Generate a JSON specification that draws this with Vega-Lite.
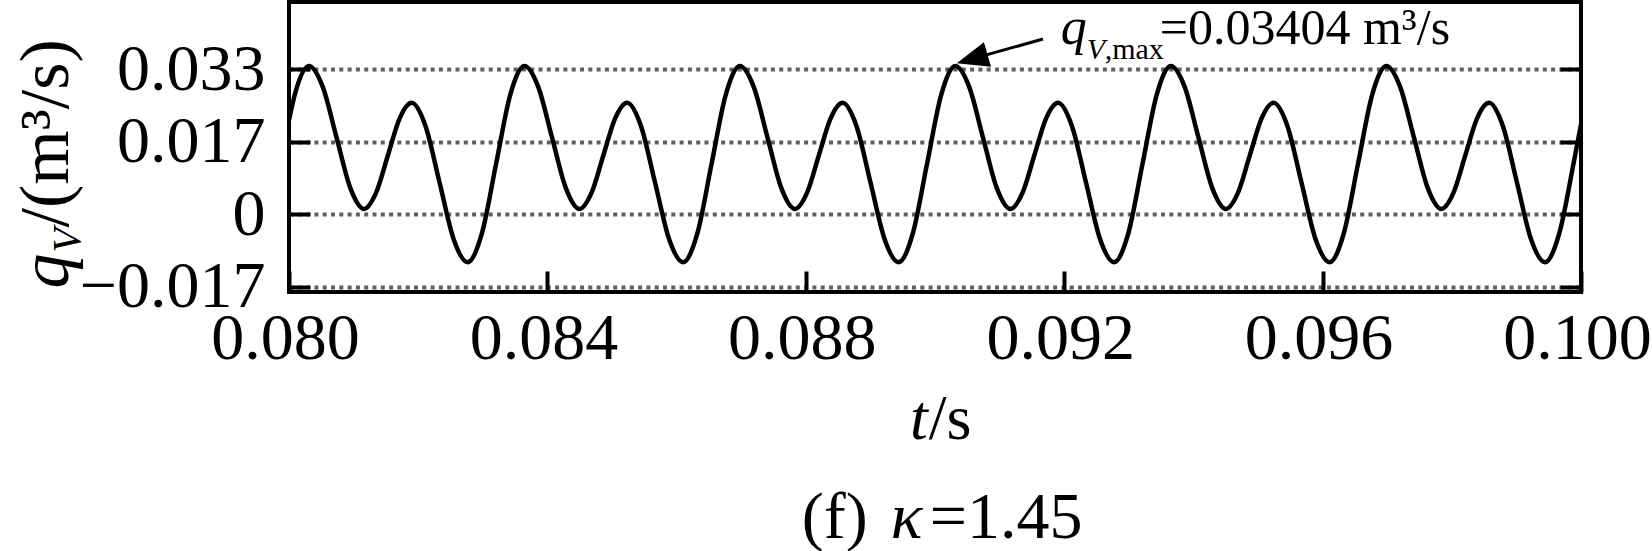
{
  "$schema": "https://vega.github.io/schema/vega-lite/v6.json",
  "width": 1292,
  "height": 290,
  "autosize": {"type": "none"},
  "padding": {"left": 289, "top": 2, "right": 71, "bottom": 259},
  "background": "white",
  "config": {"view": {"stroke": "black", "strokeWidth": 4}, "font": "Liberation Serif"},
  "resolve": {"axis": {"x": "independent", "y": "independent"}},
  "layer": [
    {
      "data": {"values": [
        {"t": 0.0800000, "q": 0.02164},
        {"t": 0.0800894, "q": 0.02745},
        {"t": 0.0803097, "q": 0.03404},
        {"t": 0.0805226, "q": 0.02925},
        {"t": 0.0807356, "q": 0.01767},
        {"t": 0.0809485, "q": 0.00609},
        {"t": 0.0811614, "q": 0.00126},
        {"t": 0.0813453, "q": 0.00486},
        {"t": 0.0815292, "q": 0.01345},
        {"t": 0.0817131, "q": 0.02204},
        {"t": 0.0818970, "q": 0.02561},
        {"t": 0.0821138, "q": 0.02024},
        {"t": 0.0823306, "q": 0.00730},
        {"t": 0.0825474, "q": -0.00564},
        {"t": 0.0827642, "q": -0.01098},
        {"t": 0.0829845, "q": -0.00441},
        {"t": 0.0832048, "q": 0.01152},
        {"t": 0.0834250, "q": 0.02745},
        {"t": 0.0836453, "q": 0.03404},
        {"t": 0.0838582, "q": 0.02925},
        {"t": 0.0840712, "q": 0.01767},
        {"t": 0.0842841, "q": 0.00609},
        {"t": 0.0844970, "q": 0.00126},
        {"t": 0.0846809, "q": 0.00486},
        {"t": 0.0848648, "q": 0.01345},
        {"t": 0.0850487, "q": 0.02204},
        {"t": 0.0852326, "q": 0.02561},
        {"t": 0.0854494, "q": 0.02024},
        {"t": 0.0856662, "q": 0.00730},
        {"t": 0.0858830, "q": -0.00564},
        {"t": 0.0860998, "q": -0.01098},
        {"t": 0.0863201, "q": -0.00441},
        {"t": 0.0865404, "q": 0.01152},
        {"t": 0.0867606, "q": 0.02745},
        {"t": 0.0869809, "q": 0.03404},
        {"t": 0.0871938, "q": 0.02925},
        {"t": 0.0874068, "q": 0.01767},
        {"t": 0.0876197, "q": 0.00609},
        {"t": 0.0878326, "q": 0.00126},
        {"t": 0.0880165, "q": 0.00486},
        {"t": 0.0882004, "q": 0.01345},
        {"t": 0.0883843, "q": 0.02204},
        {"t": 0.0885682, "q": 0.02561},
        {"t": 0.0887850, "q": 0.02024},
        {"t": 0.0890018, "q": 0.00730},
        {"t": 0.0892186, "q": -0.00564},
        {"t": 0.0894354, "q": -0.01098},
        {"t": 0.0896557, "q": -0.00441},
        {"t": 0.0898760, "q": 0.01152},
        {"t": 0.0900962, "q": 0.02745},
        {"t": 0.0903165, "q": 0.03404},
        {"t": 0.0905294, "q": 0.02925},
        {"t": 0.0907424, "q": 0.01767},
        {"t": 0.0909553, "q": 0.00609},
        {"t": 0.0911682, "q": 0.00126},
        {"t": 0.0913521, "q": 0.00486},
        {"t": 0.0915360, "q": 0.01345},
        {"t": 0.0917199, "q": 0.02204},
        {"t": 0.0919038, "q": 0.02561},
        {"t": 0.0921206, "q": 0.02024},
        {"t": 0.0923374, "q": 0.00730},
        {"t": 0.0925542, "q": -0.00564},
        {"t": 0.0927710, "q": -0.01098},
        {"t": 0.0929913, "q": -0.00441},
        {"t": 0.0932116, "q": 0.01152},
        {"t": 0.0934318, "q": 0.02745},
        {"t": 0.0936521, "q": 0.03404},
        {"t": 0.0938650, "q": 0.02925},
        {"t": 0.0940780, "q": 0.01767},
        {"t": 0.0942909, "q": 0.00609},
        {"t": 0.0945038, "q": 0.00126},
        {"t": 0.0946877, "q": 0.00486},
        {"t": 0.0948716, "q": 0.01345},
        {"t": 0.0950555, "q": 0.02204},
        {"t": 0.0952394, "q": 0.02561},
        {"t": 0.0954562, "q": 0.02024},
        {"t": 0.0956730, "q": 0.00730},
        {"t": 0.0958898, "q": -0.00564},
        {"t": 0.0961066, "q": -0.01098},
        {"t": 0.0963269, "q": -0.00441},
        {"t": 0.0965472, "q": 0.01152},
        {"t": 0.0967674, "q": 0.02745},
        {"t": 0.0969877, "q": 0.03404},
        {"t": 0.0972006, "q": 0.02925},
        {"t": 0.0974136, "q": 0.01767},
        {"t": 0.0976265, "q": 0.00609},
        {"t": 0.0978394, "q": 0.00126},
        {"t": 0.0980233, "q": 0.00486},
        {"t": 0.0982072, "q": 0.01345},
        {"t": 0.0983911, "q": 0.02204},
        {"t": 0.0985750, "q": 0.02561},
        {"t": 0.0987918, "q": 0.02024},
        {"t": 0.0990086, "q": 0.00730},
        {"t": 0.0992254, "q": -0.00564},
        {"t": 0.0994422, "q": -0.01098},
        {"t": 0.0996625, "q": -0.00441},
        {"t": 0.0998828, "q": 0.01152},
        {"t": 0.1000000, "q": 0.02065}
      ]},
      "mark": {"type": "line", "color": "black", "strokeWidth": 4.5, "interpolate": "monotone", "clip": true},
      "encoding": {
        "x": {"field": "t", "type": "quantitative",
          "scale": {"domain": [0.08, 0.1], "nice": false, "zero": false},
          "axis": {"orient": "bottom", "values": [0.08, 0.084, 0.088, 0.092, 0.096, 0.1], "format": ".3f", "title": null, "grid": false, "domain": false,
            "ticks": true, "tickSize": -21, "tickWidth": 4, "tickColor": "black",
            "labelFont": "Liberation Serif", "labelFontSize": 66, "labelColor": "black", "labelPadding": 35, "labelOffset": -4, "labelLimit": 400,
            "labelFlush": false, "labelOverlap": false, "labelBound": false}},
        "y": {"field": "q", "type": "quantitative",
          "scale": {"domain": [-0.017816, 0.048736], "nice": false, "zero": false},
          "axis": {"orient": "left", "values": [-0.0166667, 0, 0.0166667, 0.0333333],
            "labelExpr": "datum.value > 0.03 ? '0.033' : datum.value > 0.01 ? '0.017' : datum.value < -0.01 ? '\u22120.017' : '0'",
            "title": null, "grid": true, "gridColor": "#606060", "gridWidth": 4, "gridDash": [4, 4.3], "gridOpacity": 1,
            "domain": false, "ticks": true, "tickSize": -21, "tickWidth": 4, "tickColor": "black",
            "labelFont": "Liberation Serif", "labelFontSize": 66, "labelColor": "black", "labelPadding": 45, "labelLimit": 400,
            "labelFlush": false, "labelOverlap": false, "labelBound": false}}
      }
    },
    {
      "data": {"values": [{}]},
      "mark": {"type": "rule", "color": "black", "strokeWidth": 3},
      "encoding": {
        "x": {"datum": 0.091672, "type": "quantitative", "scale": {"domain": [0.08, 0.1], "nice": false, "zero": false}, "axis": null},
        "x2": {"datum": 0.090574},
        "y": {"datum": 0.04023, "type": "quantitative", "scale": {"domain": [-0.017816, 0.048736], "nice": false, "zero": false},
          "axis": {"orient": "right", "values": [-0.0166667, 0, 0.0166667, 0.0333333], "labels": false, "title": null, "grid": false,
            "domain": false, "ticks": true, "tickSize": -21, "tickWidth": 4, "tickColor": "black"}},
        "y2": {"datum": 0.035678}
      }
    },
    {
      "data": {"values": [{}]},
      "mark": {"type": "point", "shape": "M0,-1L0.8,1L-0.8,1Z", "size": 1024, "angle": 254, "filled": true, "color": "black", "opacity": 1, "strokeWidth": 0},
      "encoding": {
        "x": {"datum": 0.090574, "type": "quantitative", "axis": null},
        "y": {"datum": 0.035678, "type": "quantitative", "axis": null}
      }
    },
    {
      "data": {"values": [{}]},
      "mark": {"type": "text", "text": "q", "font": "Liberation Serif", "fontStyle": "italic", "fontSize": 52, "align": "left", "baseline": "alphabetic", "color": "black"},
      "encoding": {
        "x": {"datum": 0.091946, "type": "quantitative", "axis": null},
        "y": {"datum": 0.039080, "type": "quantitative", "axis": null}
      }
    },
    {
      "data": {"values": [{}]},
      "mark": {"type": "text", "text": "V", "font": "Liberation Serif", "fontStyle": "italic", "fontSize": 30, "align": "left", "baseline": "alphabetic", "color": "black"},
      "encoding": {
        "x": {"datum": 0.092348, "type": "quantitative", "axis": null},
        "y": {"datum": 0.035632, "type": "quantitative", "axis": null}
      }
    },
    {
      "data": {"values": [{}]},
      "mark": {"type": "text", "text": ",max", "font": "Liberation Serif", "fontSize": 30, "align": "left", "baseline": "alphabetic", "color": "black"},
      "encoding": {
        "x": {"datum": 0.092627, "type": "quantitative", "axis": null},
        "y": {"datum": 0.035632, "type": "quantitative", "axis": null}
      }
    },
    {
      "data": {"values": [{}]},
      "mark": {"type": "text", "text": "=0.03404 m\u00b3/s", "font": "Liberation Serif", "fontSize": 50, "align": "left", "baseline": "alphabetic", "color": "black"},
      "encoding": {
        "x": {"datum": 0.093478, "type": "quantitative", "axis": null},
        "y": {"datum": 0.039080, "type": "quantitative", "axis": null}
      }
    },
    {
      "data": {"values": [{}]},
      "mark": {"type": "text", "text": "q", "font": "Liberation Serif", "fontStyle": "italic", "fontSize": 70, "angle": 270, "align": "left", "baseline": "alphabetic", "color": "black"},
      "encoding": {
        "x": {"datum": 0.076574, "type": "quantitative", "axis": null},
        "y": {"datum": -0.017, "type": "quantitative", "axis": null}
      }
    },
    {
      "data": {"values": [{}]},
      "mark": {"type": "text", "text": "V", "font": "Liberation Serif", "fontStyle": "italic", "fontSize": 40, "angle": 270, "align": "left", "baseline": "alphabetic", "color": "black"},
      "encoding": {
        "x": {"datum": 0.076760, "type": "quantitative", "axis": null},
        "y": {"datum": -0.008736, "type": "quantitative", "axis": null}
      }
    },
    {
      "data": {"values": [{}]},
      "mark": {"type": "text", "text": "/(m\u00b3/s)", "font": "Liberation Serif", "fontSize": 70, "angle": 270, "align": "left", "baseline": "alphabetic", "color": "black"},
      "encoding": {
        "x": {"datum": 0.076574, "type": "quantitative", "axis": null},
        "y": {"datum": -0.003000, "type": "quantitative", "axis": null}
      }
    },
    {
      "data": {"values": [{}]},
      "mark": {"type": "text", "text": "t", "font": "Liberation Serif", "fontStyle": "italic", "fontSize": 64, "align": "right", "baseline": "alphabetic", "color": "black"},
      "encoding": {
        "x": {"datum": 0.089887, "type": "quantitative", "axis": null},
        "y": {"datum": -0.051494, "type": "quantitative", "axis": null}
      }
    },
    {
      "data": {"values": [{}]},
      "mark": {"type": "text", "text": "/s", "font": "Liberation Serif", "fontSize": 64, "align": "left", "baseline": "alphabetic", "color": "black"},
      "encoding": {
        "x": {"datum": 0.089902, "type": "quantitative", "axis": null},
        "y": {"datum": -0.051494, "type": "quantitative", "axis": null}
      }
    },
    {
      "data": {"values": [{}]},
      "mark": {"type": "text", "text": "(f)", "font": "Liberation Serif", "fontSize": 66, "align": "right", "baseline": "alphabetic", "color": "black"},
      "encoding": {
        "x": {"datum": 0.088958, "type": "quantitative", "axis": null},
        "y": {"datum": -0.074253, "type": "quantitative", "axis": null}
      }
    },
    {
      "data": {"values": [{}]},
      "mark": {"type": "text", "text": "\u03ba", "font": "Liberation Serif", "fontStyle": "italic", "fontSize": 66, "align": "center", "baseline": "alphabetic", "color": "black"},
      "encoding": {
        "x": {"datum": 0.089560, "type": "quantitative", "axis": null},
        "y": {"datum": -0.074253, "type": "quantitative", "axis": null}
      }
    },
    {
      "data": {"values": [{}]},
      "mark": {"type": "text", "text": "=1.45", "font": "Liberation Serif", "fontSize": 66, "align": "left", "baseline": "alphabetic", "color": "black"},
      "encoding": {
        "x": {"datum": 0.089918, "type": "quantitative", "axis": null},
        "y": {"datum": -0.074253, "type": "quantitative", "axis": null}
      }
    }
  ]
}
